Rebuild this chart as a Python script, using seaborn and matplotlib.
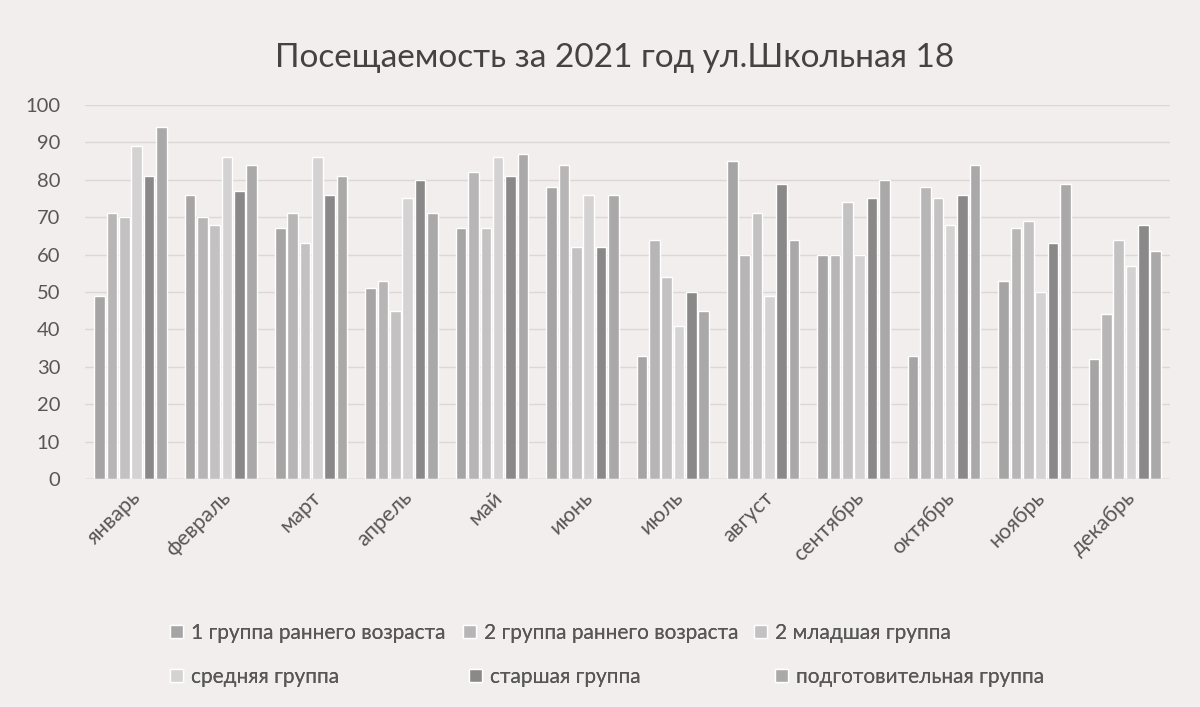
import seaborn as sns
import matplotlib.pyplot as plt
import pandas as pd

# данные с диаграммы (посещаемость, %)
months = ['январь', 'февраль', 'март', 'апрель', 'май', 'июнь',
          'июль', 'август', 'сентябрь', 'октябрь', 'ноябрь', 'декабрь']

groups = ['1 группа раннего возраста', '2 группа раннего возраста', '2 младшая группа',
          'средняя группа', 'старшая группа', 'подготовительная группа']

gr1_early = [49, 76, 67, 51, 67, 78, 33, 85, 60, 33, 53, 32]
gr2_early = [71, 70, 71, 53, 82, 84, 64, 60, 60, 78, 67, 44]
gr2_junior = [70, 68, 63, 45, 67, 62, 54, 71, 74, 75, 69, 64]
gr_middle = [89, 86, 86, 75, 86, 76, 41, 49, 60, 68, 50, 57]
gr_senior = [81, 77, 76, 80, 81, 62, 50, 79, 75, 76, 63, 68]
gr_prep = [94, 84, 81, 71, 87, 76, 45, 64, 80, 84, 79, 61]

series = [gr1_early, gr2_early, gr2_junior, gr_middle, gr_senior, gr_prep]

rows = []
for g, vals in zip(groups, series):
    for m, v in zip(months, vals):
        rows.append({'месяц': m, 'группа': g, 'значение': v})
df = pd.DataFrame(rows)

colors = ['#a6a4a4', '#b7b5b5', '#c3c1c1', '#d5d1d1', '#8a8888', '#aaa8a8']
bg = '#f3eeee'
txt = '#585656'

sns.set_theme(style='white')
plt.rcParams['font.family'] = ['Lato', 'DejaVu Sans']

fig = plt.figure(figsize=(12, 7.07), dpi=100, facecolor=bg)
ax = fig.add_axes([0.071, 0.3225, 0.904, 0.529])
ax.set_facecolor(bg)

sns.barplot(data=df, x='месяц', y='значение', hue='группа', palette=colors,
            width=0.82, gap=0.14, ax=ax, legend=True)

ax.set_ylim(0, 100)
ax.set_yticks(range(0, 101, 10))
ax.yaxis.grid(True, color='#dcd6d6', linewidth=1)
ax.set_axisbelow(True)
for s in ax.spines.values():
    s.set_visible(False)
ax.axhline(0, color='#d2cccc', linewidth=1)
ax.set_xlabel('')
ax.set_ylabel('')
ax.tick_params(axis='y', labelsize=14.5, labelcolor=txt, length=0, pad=18)
ax.tick_params(axis='x', labelsize=15.5, labelcolor=txt, length=0, pad=6)
plt.setp(ax.get_xticklabels(), rotation=45, ha='right', rotation_mode='anchor')
ax.set_xlim(-0.5, 11.5)

fig.suptitle('Посещаемость за 2021 год ул.Школьная 18', x=0.5125, y=0.918,
             va='center', fontsize=24, color='#444242')

# легенда: две строки по три элемента, как в Excel
handles, labels = ax.get_legend_handles_labels()
ax.get_legend().remove()
leg_x = [161, 454, 745, 161, 460, 766]
leg_y = [633, 633, 633, 677, 677, 677]
for h, l, lx, ly in zip(handles, labels, leg_x, leg_y):
    lg = fig.legend([h], [l], loc='center left',
                    bbox_to_anchor=(lx / 1200 - 0.008, 1 - ly / 707),
                    frameon=False, fontsize=15, labelcolor=txt,
                    handlelength=0.6, handleheight=0.6, handletextpad=0.4)
    fig.add_artist(lg)

fig.savefig('out.png', dpi=100, facecolor=bg)
